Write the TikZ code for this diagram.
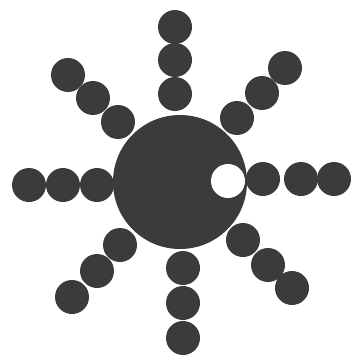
\documentclass[tikz,border=0pt]{standalone}
\begin{document}
\begin{tikzpicture}[x=1pt,y=-1pt,
  dk/.style={circle,fill=black!77,draw=none,inner sep=0pt},
  small/.style={dk,minimum size=34pt},
  hole/.style={circle,fill=white,draw=none,inner sep=0pt,minimum size=34pt}]
\useasboundingbox[fill=white] (0,0) rectangle (352,356);
\node[dk,minimum size=134pt] (hub) at (180,182) {};
\node[hole] (hole) at (228,181) {};
% top
\node[small] (t1) at (175,94) {};
\node[small] (t2) at (175,60) {};
\node[small] (t3) at (175,27) {};
% bottom
\node[small] (b1) at (183,268) {};
\node[small] (b2) at (183,303) {};
\node[small] (b3) at (183,338) {};
% left
\node[small] (l1) at (97,185) {};
\node[small] (l2) at (63,185) {};
\node[small] (l3) at (29,185) {};
% right
\node[small] (r1) at (263,179) {};
\node[small] (r2) at (301,179) {};
\node[small] (r3) at (334,179) {};
% upper left
\node[small] (ul1) at (118,122) {};
\node[small] (ul2) at (93,98) {};
\node[small] (ul3) at (68,75) {};
% upper right
\node[small] (ur1) at (237,118) {};
\node[small] (ur2) at (262,93) {};
\node[small] (ur3) at (285,68) {};
% lower left
\node[small] (ll1) at (120,245) {};
\node[small] (ll2) at (97,271) {};
\node[small] (ll3) at (72,297) {};
% lower right
\node[small] (lr1) at (243,240) {};
\node[small] (lr2) at (268,265) {};
\node[small] (lr3) at (292,288) {};
\end{tikzpicture}
\end{document}
